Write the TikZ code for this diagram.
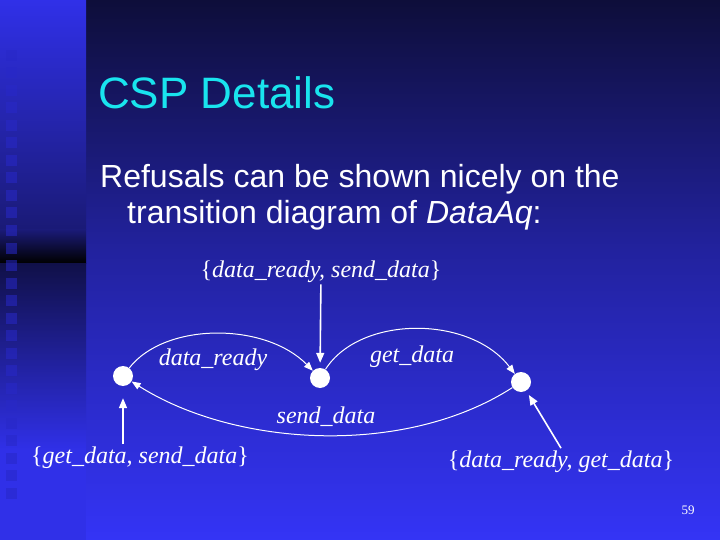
\documentclass[tikz,border=0pt]{standalone}
\usepackage{fontspec}
\setmainfont{Liberation Sans}
\newfontfamily\lblfont{Liberation Serif}
\usepackage{tikz}
\usetikzlibrary{arrows.meta}
\usepackage{xcolor}
\definecolor{titlecyan}{RGB}{25,228,238}
\definecolor{bgtop}{RGB}{14,14,58}
\definecolor{bgmid}{RGB}{34,34,158}
\definecolor{bgbot}{RGB}{52,52,246}
\definecolor{stripblue}{RGB}{48,48,232}
\definecolor{stripdark}{RGB}{26,26,118}
\definecolor{stripnavy}{RGB}{16,16,72}
\definecolor{squareblue}{RGB}{40,40,200}

\tikzset{
  state/.style={circle,fill=white,inner sep=0pt,minimum size=20pt},
  refusal/.style={text=white,inner sep=2pt,anchor=base,
    font=\lblfont\itshape\fontsize{24}{28}\selectfont},
  event/.style={text=white,inner sep=0pt,anchor=base,
    font=\lblfont\itshape\fontsize{24}{28}\selectfont},
  trans/.style={draw=white,line width=1pt,-{Triangle[length=9pt,width=7pt]}},
  refarrow/.style={draw=white,line width=1.6pt,-{Triangle[length=10pt,width=8pt]}}
}
\newcommand{\lb}{{\upshape\{}}
\newcommand{\rb}{{\upshape\}}}

\begin{document}
\begin{tikzpicture}[x=1pt,y=-1pt]
        \useasboundingbox (0,0) rectangle (720,540);
        % background
        \shade[top color=bgtop,bottom color=bgmid] (86,0) rectangle (720,250);
        \shade[top color=bgmid,bottom color=bgbot] (86,250) rectangle (720,540);
        \shade[top color=stripblue,bottom color=stripdark] (0,0) rectangle (86,230);
        \shade[top color=stripdark,bottom color=black] (0,230) rectangle (86,263);
        \shade[top color=stripnavy,bottom color=stripblue] (0,263) rectangle (86,450);
        \fill[stripblue] (0,450) rectangle (86,540);
        \foreach \k in {0,...,25}
          \fill[squareblue,opacity=0.55] (6,50+17.5*\k) rectangle +(11,11);

        % text
        \node[anchor=base west,inner sep=0pt,text=titlecyan,font=\fontsize{44}{52}\selectfont] (title) at (98,109) {CSP Details};
        \node[anchor=base west,inner sep=0pt,text=white,font=\fontsize{32}{35}\selectfont] (body1) at (100,188) {Refusals can be shown nicely on the};
        \node[anchor=base west,inner sep=0pt,text=white,font=\fontsize{32}{35}\selectfont] (body2) at (127,223) {transition diagram of \textit{DataAq}:};

        % states
        \node[state] (n1) at (123,376) {};
        \node[state] (n2) at (320,378) {};
        \node[state] (n3) at (521,382) {};

        % events
        \draw[trans] (n1) .. controls (165,322) and (265,322) .. (n2);
        \draw[trans] (n2) .. controls (360,315) and (470,315) .. (n3);
        \draw[trans] (n3) .. controls (405,457) and (235,447) .. (n1);
        \node[event] (dready) at (213,365) {data\_ready};
        \node[event] (gdata) at (412,362) {get\_data};
        \node[event] (sdata) at (326,423) {send\_data};

        % refusals
        \node[refusal] (refTop) at (321,277) {\lb data\_ready, send\_data\rb};
        \node[refusal] (refLeft) at (140,463) {\lb get\_data, send\_data\rb};
        \node[refusal] (refRight) at (561,467) {\lb data\_ready, get\_data\rb};
        \draw[refarrow,shorten >=5pt] (refTop) -- (n2);
        \draw[refarrow,shorten >=12pt] (refLeft.north -| n1) -- (n1);
        \draw[refarrow,shorten >=5pt] (refRight.north) -- (n3);

        \node[text=white,inner sep=0pt,font=\lblfont\fontsize{13}{15}\selectfont] (pageno) at (688,510) {59};
      \end{tikzpicture}
\end{document}
